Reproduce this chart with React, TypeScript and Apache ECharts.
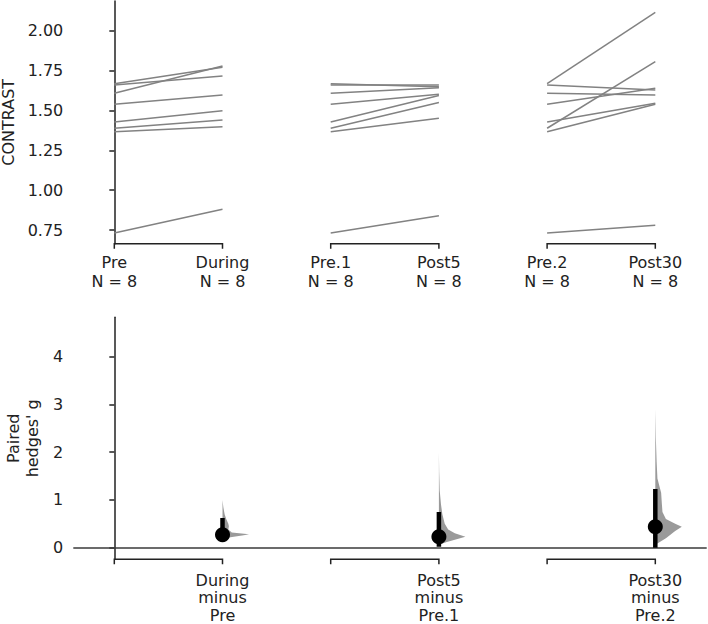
import React, { useEffect, useRef } from "react";
import * as echarts from "echarts";

// ---- data ----
const groupNames = ["Pre", "During", "Pre.1", "Post5", "Pre.2", "Post30"];
const groupN = [8, 8, 8, 8, 8, 8];

const preValues = [1.669, 1.661, 1.609, 1.54, 1.428, 1.389, 1.367, 0.731];
const duringValues = [1.772, 1.717, 1.78, 1.598, 1.499, 1.441, 1.399, 0.88];
const pre1Values = [1.669, 1.661, 1.609, 1.54, 1.428, 1.389, 1.367, 0.731];
const post5Values = [1.65, 1.661, 1.644, 1.602, 1.594, 1.55, 1.452, 0.84];
const pre2Values = [1.669, 1.661, 1.609, 1.54, 1.428, 1.389, 1.367, 0.731];
const post30Values = [2.117, 1.629, 1.598, 1.64, 1.546, 1.807, 1.54, 0.78];

const contrastTicks = [0.75, 1.0, 1.25, 1.5, 1.75, 2.0];
const deltaTicks = [0, 1, 2, 3, 4];
const deltaLabels = ["During\nminus\nPre", "Post5\nminus\nPre.1", "Post30\nminus\nPre.2"];

const effectSizes = [0.27, 0.23, 0.44];
const ciLow = [0.14, 0.02, 0.0];
const ciHigh = [0.62, 0.75, 1.23];

// bootstrap distributions (value, relative density)
const violin1Values = [1.0, 0.85, 0.7, 0.6, 0.5, 0.45, 0.38, 0.32, 0.28, 0.26, 0.22, 0.18, 0.15];
const violin1Density = [0, 0.03, 0.08, 0.14, 0.22, 0.24, 0.22, 0.35, 1.0, 0.8, 0.3, 0.1, 0];
const violin2Values = [2.0, 1.6, 1.2, 0.9, 0.7, 0.5, 0.38, 0.3, 0.23, 0.18, 0.12, 0.07, 0.04];
const violin2Density = [0, 0.01, 0.03, 0.08, 0.13, 0.22, 0.35, 0.6, 1.0, 0.7, 0.3, 0.05, 0];
const violin3Values = [2.9, 2.3, 1.8, 1.45, 1.15, 0.9, 0.75, 0.6, 0.5, 0.44, 0.35, 0.2, 0.06];
const violin3Density = [0, 0.02, 0.05, 0.08, 0.22, 0.25, 0.27, 0.4, 0.75, 1.0, 0.75, 0.4, 0];

const pairs = [
  [preValues, duringValues],
  [pre1Values, post5Values],
  [pre2Values, post30Values],
];
const violinValues = [violin1Values, violin2Values, violin3Values];
const violinDensity = [violin1Density, violin2Density, violin3Density];

const FONT = "DejaVu Sans";
const INK = "#222222";
const X_MIN = -0.379;
const X_MAX = 5.475;
const TOP_MIN = 0.664;
const TOP_MAX = 2.188;
const BOT_MIN = -0.243;
const BOT_MAX = 4.825;
const VIOLIN_HALF_WIDTH = 0.245;

export default function App() {
  const ref = useRef<HTMLDivElement>(null);

  useEffect(() => {
    if (!ref.current) return;
    const chart = echarts.init(ref.current, null, { renderer: "svg" });

    const series: any[] = [];
    pairs.forEach((pair, g) => {
      const [a, b] = pair;
      a.forEach((v, i) => {
        series.push({
          type: "line",
          xAxisIndex: 0,
          yAxisIndex: 0,
          data: [
            [2 * g, v],
            [2 * g + 1, b[i]],
          ],
          symbol: "none",
          silent: true,
          lineStyle: { color: "#828282", width: 1.5 },
          z: 2,
        });
      });
    });

    const bracket = (axisIdx: number, yMin: number) => ({
      type: "custom",
      xAxisIndex: axisIdx,
      yAxisIndex: axisIdx,
      clip: false,
      silent: true,
      data: [
        [0, 1],
        [2, 3],
        [4, 5],
      ],
      renderItem: (_p: any, api: any) => {
        const a = api.coord([api.value(0), yMin]);
        const b = api.coord([api.value(1), yMin]);
        return {
          type: "polyline",
          shape: {
            points: [
              [a[0], a[1] + 5],
              [a[0], a[1]],
              [b[0], b[1]],
              [b[0], b[1] + 5],
            ],
          },
          style: { stroke: INK, lineWidth: 1.5, fill: null },
        };
      },
    });
    series.push(bracket(0, TOP_MIN));
    series.push(bracket(1, BOT_MIN));

    // violins
    series.push({
      type: "custom",
      xAxisIndex: 1,
      yAxisIndex: 1,
      clip: false,
      silent: true,
      z: 3,
      data: [
        [1, 0],
        [3, 1],
        [5, 2],
      ],
      renderItem: (_p: any, api: any) => {
        const x = api.value(0);
        const gi = api.value(1);
        const vals = violinValues[gi];
        const dens = violinDensity[gi];
        const pts: number[][] = [api.coord([x, vals[0]])];
        for (let k = 0; k < vals.length; k++) {
          pts.push(api.coord([x + dens[k] * VIOLIN_HALF_WIDTH, vals[k]]));
        }
        pts.push(api.coord([x, vals[vals.length - 1]]));
        return {
          type: "polygon",
          shape: { points: pts },
          style: { fill: "#9a9a9a" },
        };
      },
    });

    // CI lines
    effectSizes.forEach((_e, g) => {
      series.push({
        type: "line",
        xAxisIndex: 1,
        yAxisIndex: 1,
        data: [
          [2 * g + 1, ciLow[g]],
          [2 * g + 1, ciHigh[g]],
        ],
        symbol: "none",
        silent: true,
        lineStyle: { color: "#000", width: 4.5, cap: "butt" },
        z: 4,
      });
    });

    series.push({
      type: "scatter",
      xAxisIndex: 1,
      yAxisIndex: 1,
      data: effectSizes.map((e, g) => [2 * g + 1, e]),
      symbolSize: 15,
      itemStyle: { color: "#000", opacity: 1 },
      silent: true,
      z: 5,
      markLine: {
        silent: true,
        symbol: "none",
        label: { show: false },
        lineStyle: { color: "#3a3a3a", width: 1.5, type: "solid" },
        data: [{ yAxis: 0 }],
        z: 1,
      },
    });

    const tickLabel = { fontFamily: FONT, fontSize: 16, color: INK };

    chart.setOption({
      animation: false,
      textStyle: { fontFamily: FONT },
      grid: [
        { left: 73.3, top: 1, width: 633.4, height: 242.7, outerBoundsMode: "none", containLabel: false },
        { left: 73.3, top: 317.3, width: 633.4, height: 242, outerBoundsMode: "none", containLabel: false },
      ],
      xAxis: [
        {
          type: "value",
          gridIndex: 0,
          min: X_MIN,
          max: X_MAX,
          axisLine: { show: false },
          axisTick: { show: false },
          splitLine: { show: false },
          axisLabel: {
            ...tickLabel,
            customValues: [0, 1, 2, 3, 4, 5],
            lineHeight: 18.5,
            margin: 10,
            formatter: (v: number) => `${groupNames[Math.round(v)]}\nN = ${groupN[Math.round(v)]}`,
          },
        },
        {
          type: "value",
          gridIndex: 1,
          min: X_MIN,
          max: X_MAX,
          axisLine: { show: false },
          axisTick: { show: false },
          splitLine: { show: false },
          axisLabel: {
            ...tickLabel,
            customValues: [1, 3, 5],
            lineHeight: 17.5,
            margin: 12,
            formatter: (v: number) => deltaLabels[Math.round((v - 1) / 2)],
          },
        },
      ],
      yAxis: [
        {
          type: "value",
          gridIndex: 0,
          min: TOP_MIN,
          max: TOP_MAX,
          name: "CONTRAST",
          nameLocation: "middle",
          nameGap: 54,
          nameTextStyle: { fontFamily: FONT, fontSize: 16, color: INK },
          axisLine: { show: true, lineStyle: { color: INK, width: 1.5 } },
          axisTick: { show: true, length: 5, customValues: contrastTicks, lineStyle: { color: INK, width: 1.5 } },
          splitLine: { show: false },
          axisLabel: {
            ...tickLabel,
            margin: 10,
            customValues: contrastTicks,
            formatter: (v: number) => v.toFixed(2),
          },
        },
        {
          type: "value",
          gridIndex: 1,
          min: BOT_MIN,
          max: BOT_MAX,
          name: "Paired\nhedges' g",
          nameLocation: "middle",
          nameGap: 27,
          nameTextStyle: { fontFamily: FONT, fontSize: 16, color: INK, lineHeight: 19 },
          axisLine: { show: true, lineStyle: { color: INK, width: 1.5 } },
          axisTick: { show: true, length: 5, customValues: deltaTicks, lineStyle: { color: INK, width: 1.5 } },
          splitLine: { show: false },
          axisLabel: {
            ...tickLabel,
            margin: 10,
            customValues: deltaTicks,
            formatter: (v: number) => String(Math.round(v)),
          },
        },
      ],
      series,
    });

    return () => chart.dispose();
  }, []);

  return (
    <div
      ref={ref}
      style={{ position: "fixed", left: 0, top: 0, width: 708, height: 624, background: "#fff" }}
    />
  );
}
